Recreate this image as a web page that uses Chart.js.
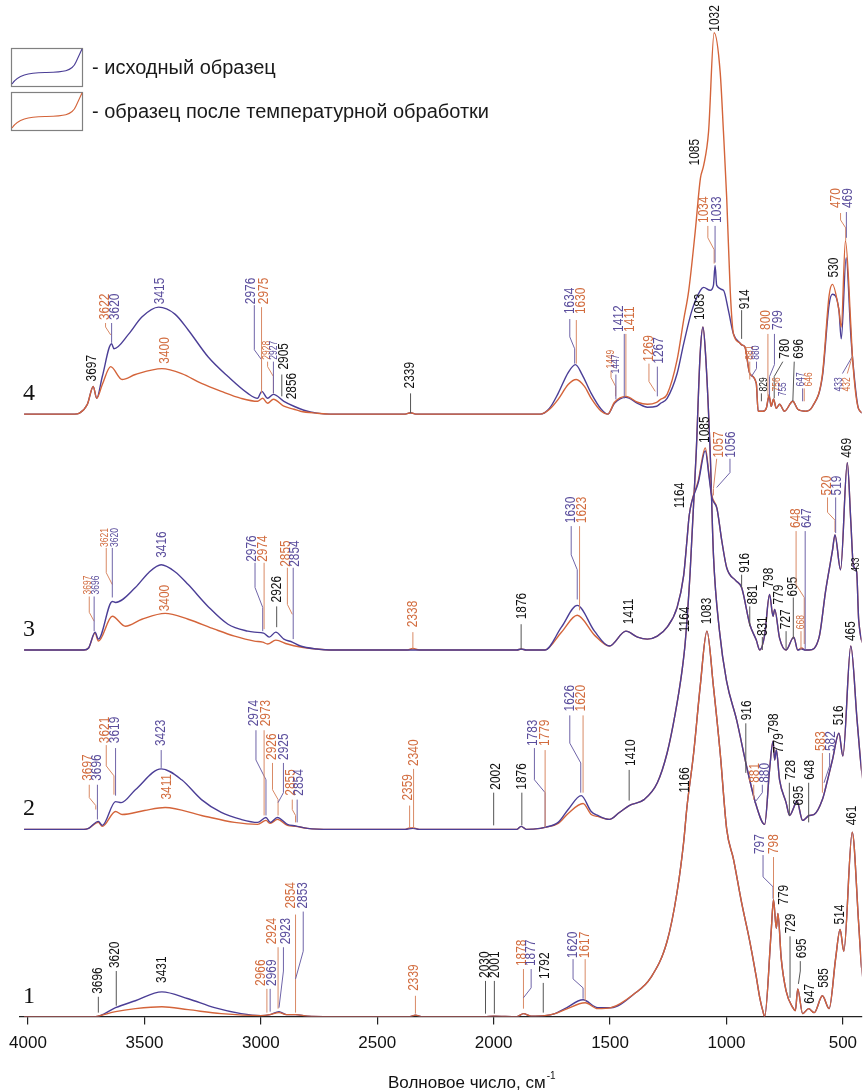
<!DOCTYPE html>
<html>
<head>
<meta charset="utf-8">
<script src="https://cdn.jsdelivr.net/npm/chart.js@4.4.1/dist/chart.umd.min.js"></script>
<style>
  body { margin: 0; background: #fff; }
  #wrap { width: 866px; height: 1091px; }
</style>
</head>
<body>
<div id="wrap"><canvas id="irChart" width="866" height="1091"></canvas></div>
<script>
/* ИК-спектры: 4 образца, исходный (синий) и после обработки (оранжевый) */
/* пары [волновое число, интенсивность над базовой линией] */

const tickValues = [4000, 3500, 3000, 2500, 2000, 1500, 1000, 500];
const offsets = [0, 189, 370, 608];   // сдвиг базовой линии спектров 1..4
const spectrumNames = ['1', '2', '3', '4'];

const s4Init = [[4017,0],[3800,0],[3779,1],[3745,10],[3720,28],[3705,16],[3681,38],[3641,71],[3631,66],[3567,81],[3511,98],[3439,108],[3369,101],[3312,85],[3227,58],[3141,38],[3056,21],[3014,16],[2996,23],[2971,16],[2946,20],[2901,13],[2858,8],[2815,4],[2758,1],[2700,0],[2380,0],[2357,1.5],[2335,0],[1800,0],[1760,6],[1723,21],[1680,42],[1649,50],[1620,40],[1581,21],[1538,5],[1510,0],[1481,11],[1432,17],[1382,11],[1340,7],[1300,8],[1283,11],[1255,16],[1212,41],[1184,71],[1148,105],[1112,125],[1098,128],[1070,125],[1056,130],[1049,150],[1042,130],[1013,125],[992,105],[970,81],[943,72],[935,70],[921,68],[900,41],[872,31],[864,3],[843,3],[829,6],[817,18],[808,8],[798,15],[786,6],[772,10],[751,3],[715,13],[694,5],[659,3],[630,8],[588,38],[559,111],[545,121],[517,105],[507,76],[486,158],[466,80],[459,58],[432,5],[400,0]];
const s4Heat = [[4017,0],[3800,0],[3779,1],[3745,10],[3720,28],[3705,16],[3681,30],[3645,48],[3596,35],[3539,40],[3425,46],[3340,41],[3255,31],[3170,23],[3085,16],[3014,13],[2992,16],[2971,11],[2946,15],[2901,8],[2858,5],[2830,3],[2758,1],[2700,0],[2380,0],[2357,1.5],[2335,0],[1800,0],[1760,5],[1723,15],[1680,30],[1645,35],[1610,28],[1581,16],[1538,3],[1510,0],[1481,12],[1432,18],[1382,12],[1340,10],[1300,12],[1283,15],[1255,20],[1212,55],[1184,95],[1162,125],[1134,185],[1112,238],[1098,251],[1077,285],[1053,385],[1027,345],[1013,285],[999,218],[984,125],[970,81],[943,72],[935,70],[921,68],[900,41],[872,31],[864,3],[843,3],[829,6],[817,20],[808,8],[798,15],[786,6],[772,10],[751,3],[715,13],[694,5],[659,3],[630,8],[588,40],[559,120],[545,131],[517,105],[507,88],[489,175],[466,90],[459,58],[432,5],[400,0]];

const s3Init = [[4017,0],[3760,0],[3740,2],[3712,18],[3698,11],[3638,49],[3624,48],[3539,63],[3482,78],[3428,86],[3369,79],[3312,66],[3227,44],[3141,26],[3056,19],[3028,18],[2988,17],[2964,13],[2936,18],[2901,11],[2865,8],[2830,4],[2760,1],[2700,0],[1900,0],[1882,1],[1860,0],[1780,0],[1709,23],[1641,45],[1567,19],[1503,4],[1432,19],[1382,13],[1340,11],[1297,14],[1255,23],[1212,43],[1184,75],[1170,110],[1160,136],[1120,170],[1091,201],[1075,175],[1063,154],[1041,143],[1020,110],[999,83],[960,70],[935,63],[900,26],[872,10],[857,0],[836,15],[815,56],[800,34],[793,41],[772,12],[744,0],[711,13],[694,0],[677,1],[662,0],[645,0],[602,13],[574,60],[545,100],[534,116],[510,81],[481,189],[466,130],[455,85],[441,79],[432,30],[400,0]];
const s3Heat = [[4017,0],[3760,0],[3740,2],[3712,17],[3698,9],[3638,34],[3582,24],[3511,31],[3411,37],[3312,31],[3199,21],[3113,14],[3028,9],[2992,8],[2971,6],[2936,10],[2886,6],[2830,3],[2760,1],[2700,0],[2370,0],[2347,1.5],[2320,0],[1900,0],[1882,1],[1860,0],[1780,0],[1709,18],[1641,35],[1567,15],[1503,4],[1432,19],[1382,13],[1340,11],[1297,14],[1255,23],[1212,43],[1184,75],[1170,110],[1160,136],[1120,172],[1091,204],[1075,177],[1063,156],[1041,143],[1020,110],[999,83],[960,70],[935,63],[900,26],[872,10],[857,0],[836,15],[815,56],[800,34],[793,41],[772,12],[744,0],[711,13],[694,0],[677,2],[662,0],[645,0],[602,13],[574,60],[545,100],[534,116],[510,81],[481,189],[466,130],[455,85],[441,79],[432,30],[400,0]];

const s2Init = [[4017,0],[3760,0],[3740,1],[3698,8],[3681,4],[3624,28],[3600,27],[3539,40],[3428,61],[3340,50],[3255,30],[3170,17],[3085,10],[3014,7],[2978,12],[2960,7],[2929,12],[2886,5],[2851,3.5],[2800,1],[2700,0],[2380,0],[2347,1],[2320,0],[1900,0],[1882,3],[1860,0],[1800,1],[1780,2],[1723,7],[1680,20],[1624,34],[1581,18],[1553,14],[1503,10],[1460,17],[1418,24],[1354,30],[1297,47],[1255,77],[1220,117],[1191,160],[1177,189],[1156,260],[1130,380],[1113,480],[1101,507],[1090,480],[1070,380],[1056,277],[1030,200],[1000,150],[956,110],[914,64],[872,24],[836,5],[815,60],[800,89],[793,70],[786,80],[772,50],[744,27],[729,14],[711,22],[698,29],[673,9],[645,14],[623,15],[588,30],[574,42],[545,70],[517,97],[500,74],[466,185],[439,110],[420,60],[400,30]];
const s2Heat = [[4017,0],[3760,0],[3740,1],[3698,7],[3681,3],[3624,18],[3596,15],[3500,19],[3411,22],[3255,14],[3113,7],[3014,5],[2978,9],[2960,6],[2929,10],[2886,4],[2851,3],[2800,1],[2700,0],[2380,0],[2361,1.5],[2344,1.5],[2320,0],[1900,0],[1882,3],[1860,0],[1800,1],[1780,2],[1723,6],[1680,16],[1616,26],[1581,15],[1553,13],[1503,10],[1460,17],[1418,24],[1354,30],[1297,47],[1255,77],[1220,117],[1191,160],[1177,189],[1156,260],[1130,380],[1113,480],[1101,507],[1090,480],[1070,380],[1056,277],[1030,200],[1000,150],[956,110],[914,64],[872,24],[836,5],[815,60],[800,89],[793,70],[786,80],[772,50],[744,27],[729,14],[711,22],[698,29],[673,9],[645,14],[623,15],[588,30],[574,42],[545,70],[517,97],[500,74],[466,185],[439,110],[420,60],[400,30]];

const s1Init = [[4017,0],[3710,0],[3690,1],[3624,9],[3539,16],[3425,25],[3312,18],[3199,9],[3085,3],[3000,1],[2960,2],[2922,5],[2890,2],[2851,2],[2800,0.5],[2700,0],[2360,0],[2336,1.5],[2310,0],[2040,0],[2000,0.5],[1900,0],[1872,3],[1840,0.5],[1780,1],[1737,3],[1694,8],[1616,17],[1553,9],[1496,9],[1396,23],[1326,39],[1255,76],[1212,126],[1184,176],[1170,211],[1141,266],[1113,333],[1084,389],[1056,333],[1027,266],[999,189],[970,159],[935,115],[900,76],[872,40],[857,19],[843,5],[836,0],[808,86],[798,118],[786,89],[779,104],[765,59],[744,26],[715,9],[704,6],[694,28],[673,3],[647,8],[623,4],[588,21],[559,8],[531,59],[512,88],[496,66],[460,186],[432,93],[420,50],[400,20]];
const s1Heat = [[4017,0],[3710,0],[3690,1],[3624,5],[3539,8],[3425,10],[3312,7],[3170,3],[3000,1],[2960,2],[2922,4],[2890,2],[2851,2],[2800,0.5],[2700,0],[2360,0],[2336,1.5],[2310,0],[2040,0],[2000,0.5],[1900,0],[1872,3],[1840,0.5],[1780,1],[1737,3],[1694,7],[1607,14],[1553,8],[1496,9],[1396,23],[1326,39],[1255,76],[1212,126],[1184,176],[1170,211],[1141,266],[1113,333],[1084,389],[1056,333],[1027,266],[999,189],[970,159],[935,115],[900,76],[872,40],[857,19],[843,5],[836,0],[808,86],[798,118],[786,89],[779,104],[765,59],[744,26],[715,9],[704,6],[694,28],[673,3],[647,8],[623,4],[588,21],[559,8],[531,59],[512,88],[496,66],[460,186],[432,93],[420,50],[400,20]];

/* подписи пиков: [текст, цвет, волн. число, низ текста, выноска, мелкий] */
const labels4 = [
  ['3697','k',3723,33,0],
  ['3622','o',3667,95,[[3667,92],[3667,88],[3645,80]]],
  ['3620','b',3624,95,[[3641,92],[3641,72]]],
  ['3415','b',3433,111,0],
  ['3400','o',3413,51,0],
  ['2976','b',3042,111,[[3028,110],[3028,65],[2997,55],[2997,25]]],
  ['2975','o',2986,111,[[2997,108],[2997,21]]],
  ['2928','o',2971,55,[[2971,53],[2971,48],[2946,38],[2946,21]],1],
  ['2927','b',2943,55,[[2946,53],[2946,21]],1],
  ['2905','k',2901,45,[[2910,40],[2910,18]]],
  ['2856','k',2865,15,0],
  ['2339','k',2357,26,[[2357,21],[2357,1]]],
  ['1634','b',1673,101,[[1673,96],[1673,78],[1652,66],[1652,51]]],
  ['1630','o',1624,101,[[1645,95],[1645,51]]],
  ['1449','o',1496,46,[[1496,44],[1496,37],[1476,28],[1476,18]],1],
  ['1447','b',1475,41,[[1475,40],[1475,15]],1],
  ['1412','b',1460,83,[[1439,81],[1439,16]]],
  ['1411','o',1413,83,[[1432,81],[1432,18]]],
  ['1269','o',1333,53,[[1333,51],[1333,33],[1306,23]]],
  ['1267','b',1290,51,[[1297,48],[1297,18]]],
  ['1085','k',1134,251,0],
  ['1032','k',1049,386,0],
  ['1034','o',1094,193,[[1080,190],[1080,178],[1053,166],[1053,152]]],
  ['1033','b',1042,193,[[1049,190],[1049,153]]],
  ['914','k',921,106,[[935,105],[935,76]]],
  ['881','o',900,55,[[900,53],[900,35]],1],
  ['880','b',871,55,[[871,53],[871,46],[893,38]],1],
  ['829','k',839,23,[[850,21],[850,13]],1],
  ['800','o',829,85,[[822,81],[822,18]]],
  ['799','b',779,85,[[794,81],[794,50],[815,38],[815,18]]],
  ['780','k',747,56,[[758,53],[795,38],[795,16]]],
  ['696','k',687,56,[[709,53],[715,13]]],
  ['756','o',782,23,0,1],
  ['755','b',758,18,0,1],
  ['647','b',680,28,[[673,26],[673,13]],1],
  ['646','o',645,28,[[666,26],[666,13]],1],
  ['530','k',538,138,0],
  ['470','o',527,208,[[510,203],[510,196],[488,188],[488,175]]],
  ['469','b',477,208,[[485,204],[485,178]]],
  ['433','b',517,23,[[502,41],[460,58]],1],
  ['432','o',481,23,[[481,41],[460,58]],1]
];
const labels3 = [
  ['3697','o',3740,56,[[3737,54],[3737,38],[3716,29]],1],
  ['3696','b',3709,56,[[3716,54],[3716,19]],1],
  ['3621','o',3667,104,[[3664,103],[3664,78],[3638,66]],1],
  ['3620','b',3627,104,[[3638,103],[3638,53]],1],
  ['3416','b',3425,93,0],
  ['3400','o',3411,39,0],
  ['2976','b',3039,89,[[3025,88],[3025,63],[2992,43],[2992,19]]],
  ['2974','o',2992,89,[[2986,88],[2986,21]]],
  ['2926','k',2929,48,[[2932,44],[2932,23]]],
  ['2855','o',2893,84,[[2886,83],[2886,46],[2865,36]]],
  ['2854','b',2851,84,[[2861,83],[2861,11]]],
  ['2338','o',2347,23,[[2347,18],[2347,1]]],
  ['1876','k',1879,31,[[1882,26],[1882,1]]],
  ['1630','b',1669,128,[[1667,125],[1667,96],[1641,81],[1641,51]]],
  ['1623','o',1620,128,[[1631,125],[1631,40]]],
  ['1411','k',1418,26,0],
  ['1164','k',1198,143,0],
  ['1085','k',1092,209,0],
  ['1057','o',1030,194,[[1042,193],[1056,163],[1056,156]]],
  ['1056','b',978,194,[[985,193],[985,179],[1042,164]]],
  ['916','k',921,78,[[935,76],[935,63]]],
  ['881','k',886,46,[[900,44],[900,24]]],
  ['798','k',815,63,0],
  ['779','k',772,46,0],
  ['831','k',843,14,[[846,13],[846,0]]],
  ['727','k',744,21,[[744,19],[744,0]]],
  ['695','k',713,54,[[713,53],[713,11]]],
  ['668','o',677,21,[[680,19],[680,0]],1],
  ['648','o',701,123,[[701,120],[701,66],[666,53],[666,6]]],
  ['647','b',654,123,[[662,120],[662,0]]],
  ['520','o',566,156,[[566,154],[566,139],[534,131],[534,119]]],
  ['519','b',524,156,[[531,154],[531,118]]],
  ['469','k',481,194,0],
  ['433','k',441,79,0,1]
];
const labels2 = [
  ['3697','o',3740,49,[[3737,45],[3737,32],[3709,24],[3709,20]]],
  ['3696','b',3702,49,[[3702,45],[3702,10]]],
  ['3621','o',3667,87,[[3664,85],[3664,64],[3631,54],[3631,35]]],
  ['3619','b',3624,87,[[3624,82],[3624,34]]],
  ['3423','b',3428,84,[[3428,80],[3428,62]]],
  ['3411','o',3404,30,0],
  ['2974','b',3028,104,[[3021,100],[3021,70],[2978,50],[2978,14]]],
  ['2973','o',2978,104,[[2986,100],[2986,14]]],
  ['2926','o',2950,70,[[2950,67],[2950,40],[2926,30],[2926,14]]],
  ['2925','b',2901,70,[[2903,67],[2903,37],[2926,27]]],
  ['2855','o',2872,34,[[2865,30],[2865,20],[2851,14],[2851,7]]],
  ['2854','b',2837,34,[[2844,30],[2844,7]]],
  ['2359','o',2369,29,[[2361,24],[2361,2]]],
  ['2340','o',2340,64,[[2344,61],[2344,1]]],
  ['2002','k',1988,40,[[2000,37],[2000,4]]],
  ['1876','k',1876,40,[[1879,37],[1879,4]]],
  ['1783','b',1829,84,[[1825,82],[1825,50],[1779,37],[1779,2]]],
  ['1779','o',1779,84,[[1779,80],[1779,2]]],
  ['1626','b',1673,119,[[1673,115],[1673,87],[1626,67],[1626,37]]],
  ['1620','o',1624,119,[[1616,115],[1616,37]]],
  ['1410','k',1411,64,[[1418,60],[1418,29]]],
  ['1164','k',1177,199,0],
  ['1083','k',1113,514,0],
  ['916','k',911,110,[[917,107],[917,57]]],
  ['881','o',875,47,[[883,45],[883,30]]],
  ['880','b',836,47,[[846,45],[846,37],[879,27]]],
  ['798','k',794,97,0],
  ['779','k',775,77,0],
  ['728','k',723,50,[[730,47],[730,14]]],
  ['695','k',687,24,0],
  ['648','k',642,50,[[647,47],[647,7]]],
  ['583','o',595,79,[[588,77],[588,37]]],
  ['582','b',552,79,[[557,77],[557,64],[581,47]]],
  ['516','k',514,105,0],
  ['465','k',464,190,0]
];
const labels1 = [
  ['3696','k',3698,23,[[3698,20],[3698,4]]],
  ['3620','k',3624,49,[[3621,46],[3621,11]]],
  ['3431','k',3425,34,0],
  ['2966','o',3000,31,[[2974,28],[2974,4]]],
  ['2969','b',2950,31,[[2960,28],[2960,5]]],
  ['2924','o',2950,73,[[2926,70],[2926,8]]],
  ['2923','b',2893,73,[[2903,70],[2903,46],[2922,9]]],
  ['2854','o',2872,109,[[2851,103],[2851,4]]],
  ['2853','b',2818,109,[[2818,106],[2818,66],[2851,38]]],
  ['2339','o',2340,26,[[2336,21],[2336,3]]],
  ['2030','k',2035,39,[[2035,36],[2035,3]]],
  ['2001','k',1992,39,[[1997,36],[1997,3]]],
  ['1878','o',1876,51,[[1872,48],[1872,8]]],
  ['1877','b',1839,51,[[1839,48],[1839,29],[1872,19]]],
  ['1792','k',1779,38,[[1787,34],[1787,4]]],
  ['1620','b',1659,59,[[1659,58],[1659,38],[1616,29],[1616,18]]],
  ['1617','o',1607,59,[[1607,58],[1607,16]]],
  ['1166','k',1177,226,0],
  ['1083','k',1084,396,0],
  ['797','b',854,164,[[843,163],[843,141],[800,131],[800,119]]],
  ['798','o',795,164,[[798,161],[798,119]]],
  ['779','k',754,113,0],
  ['729','k',723,84,[[727,81],[727,19]]],
  ['695','k',677,59,[[683,56],[683,46],[691,33]]],
  ['647','k',642,13,0],
  ['585','k',581,29,0],
  ['514','k',513,93,0],
  ['461','k',460,193,0]
];

const BLUE = '#4b3e96';
const ORANGE = '#d4643a';
const textColor = { k: '#111111', b: '#5a4d9c', o: '#d26c3e' };
const leadColor = { k: '#555555', b: '#6f64a8', o: '#d98a66' };

function pts(arr, off) {
  return arr.map(p => ({ x: p[0], y: p[1] + off }));
}
function ds(arr, off, color) {
  return {
    data: pts(arr, off),
    borderColor: color,
    borderWidth: 1.4,
    pointRadius: 0,
    fill: false,
    cubicInterpolationMode: 'monotone'
  };
}

// первый набор в списке рисуется поверх
const datasets = [
  ds(s4Heat, offsets[3], ORANGE), ds(s4Init, offsets[3], BLUE),
  ds(s3Init, offsets[2], BLUE), ds(s3Heat, offsets[2], ORANGE),
  ds(s2Init, offsets[1], BLUE), ds(s2Heat, offsets[1], ORANGE),
  ds(s1Heat, offsets[0], ORANGE), ds(s1Init, offsets[0], BLUE)
];

const labelGroups = [
  { off: offsets[0], list: labels1 },
  { off: offsets[1], list: labels2 },
  { off: offsets[2], list: labels3 },
  { off: offsets[3], list: labels4 }
];

const decorPlugin = {
  id: 'decor',
  afterDatasetsDraw(chart) {
    const ctx = chart.ctx;
    const x = chart.scales.x, y = chart.scales.y;

    // подписи пиков и выноски
    labelGroups.forEach(g => {
      g.list.forEach(l => {
        const [txt, c, wn, v, lead, small] = l;
        ctx.save();
        if (lead) {
          ctx.strokeStyle = leadColor[c];
          ctx.lineWidth = 1;
          ctx.beginPath();
          lead.forEach((p, i) => {
            const px = x.getPixelForValue(p[0]), py = y.getPixelForValue(p[1] + g.off);
            if (i) ctx.lineTo(px, py); else ctx.moveTo(px, py);
          });
          ctx.stroke();
        }
        ctx.translate(x.getPixelForValue(wn), y.getPixelForValue(v + g.off));
        ctx.rotate(-Math.PI / 2);
        ctx.scale(0.85, 1);
        ctx.font = (small ? '10px' : '14px') + ' "Liberation Sans", Arial, sans-serif';
        ctx.fillStyle = textColor[c];
        ctx.textAlign = 'left';
        ctx.textBaseline = 'middle';
        ctx.fillText(txt, 0, 0);
        ctx.restore();
      });
    });

    // номера спектров
    ctx.save();
    ctx.font = '24px "Liberation Serif", "Times New Roman", serif';
    ctx.fillStyle = '#111';
    ctx.textAlign = 'center';
    ctx.textBaseline = 'alphabetic';
    spectrumNames.forEach((n, i) => {
      ctx.fillText(n, x.getPixelForValue(3996), y.getPixelForValue(offsets[i] + 14));
    });
    ctx.restore();

    // легенда
    ctx.save();
    const items = [
      { c: BLUE, t: '- исходный образец', top: 48 },
      { c: ORANGE, t: '- образец после температурной обработки', top: 92 }
    ];
    items.forEach(it => {
      ctx.strokeStyle = '#808080';
      ctx.lineWidth = 1.2;
      ctx.strokeRect(11.5, it.top + 0.5, 71, 38);
      ctx.strokeStyle = it.c;
      ctx.lineWidth = 1.1;
      ctx.beginPath();
      ctx.moveTo(12, it.top + 36);
      ctx.bezierCurveTo(18, it.top + 27, 28, it.top + 25, 45, it.top + 24.5);
      ctx.bezierCurveTo(62, it.top + 24, 72, it.top + 24, 76, it.top + 14);
      ctx.lineTo(82, it.top + 1);
      ctx.stroke();
      ctx.fillStyle = '#1a1a1a';
      ctx.font = '20px "Liberation Sans", Arial, sans-serif';
      ctx.textAlign = 'left';
      ctx.textBaseline = 'middle';
      ctx.fillText(it.t, 92, it.top + 20);
    });
    ctx.restore();

    // подпись оси
    ctx.save();
    ctx.fillStyle = '#111';
    ctx.font = '17px "Liberation Sans", Arial, sans-serif';
    ctx.textBaseline = 'alphabetic';
    const main = 'Волновое число, см';
    const w = ctx.measureText(main).width;
    const left = 388, by = 1088;
    ctx.fillText(main, left, by);
    ctx.font = '10px "Liberation Sans", Arial, sans-serif';
    ctx.fillText('-1', left + w + 1, by - 9);
    ctx.restore();
  }
};

const config = {
  type: 'line',
  data: { datasets },
  options: {
    responsive: false,
    animation: false,
    layout: { padding: { left: 16, right: 0, top: 0, bottom: 28 } },
    plugins: { legend: { display: false }, tooltip: { enabled: false } },
    scales: {
      x: {
        type: 'linear',
        reverse: true,
        min: 420,
        max: 4038,
        afterBuildTicks: s => { s.ticks = tickValues.map(v => ({ value: v })); },
        ticks: {
          autoSkip: false,
          maxRotation: 0,
          padding: 9,
          color: '#111',
          font: { size: 17, family: '"Liberation Sans", Arial, sans-serif' },
          callback: v => String(v)
        },
        grid: { drawOnChartArea: false, drawTicks: true, tickLength: 8, color: '#222', lineWidth: 1.2 },
        border: { display: true, color: '#222', width: 1.3 }
      },
      y: { display: false, min: 0, max: 1026 }
    }
  },
  plugins: [decorPlugin]
};

const myChart = new Chart(document.getElementById('irChart'), config);
</script>
</body>
</html>
